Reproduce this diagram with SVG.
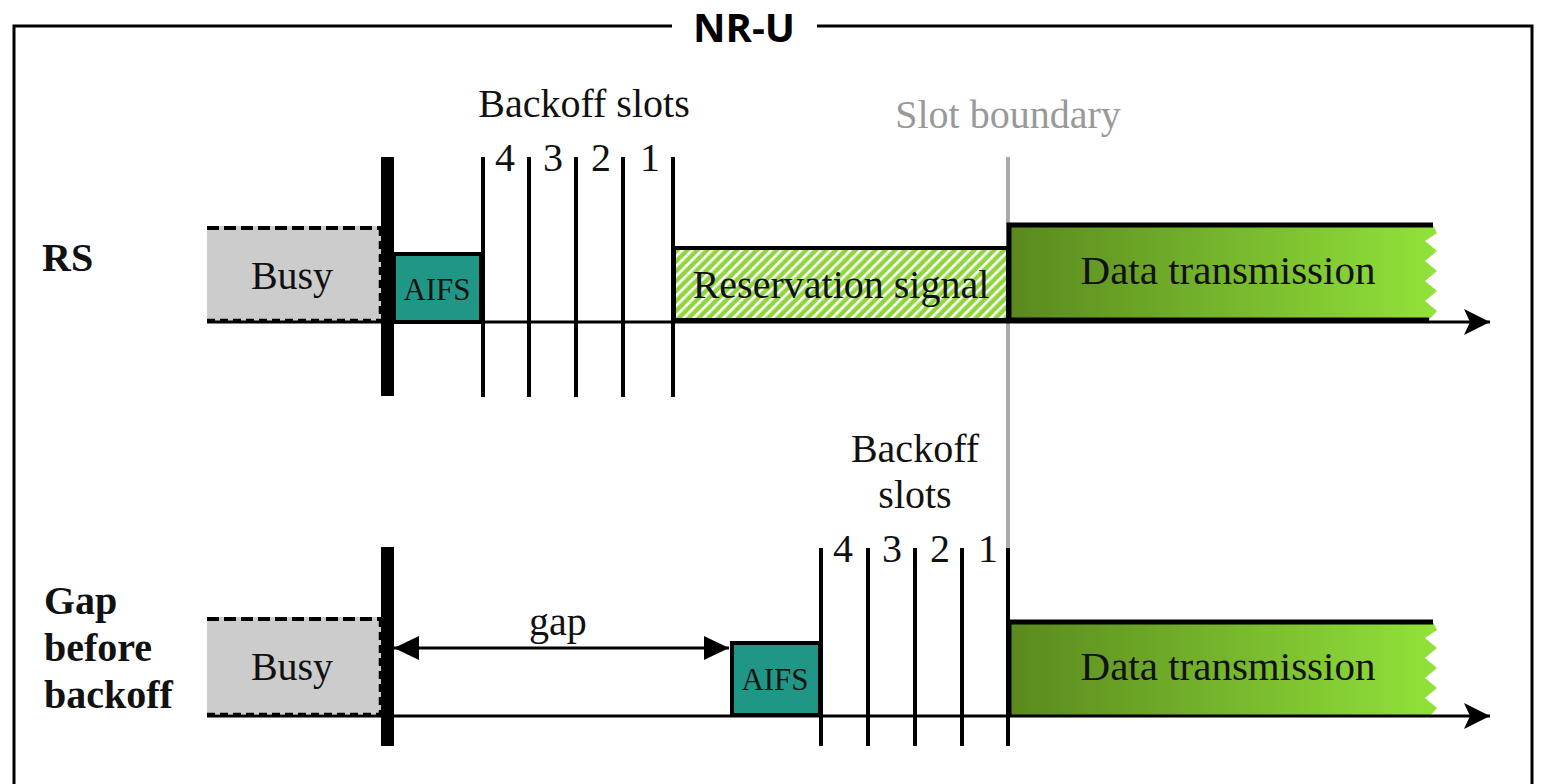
<svg xmlns="http://www.w3.org/2000/svg" width="1542" height="784" viewBox="0 0 1542 784">
<style>
.serif{font-family:"Liberation Serif","Times New Roman",serif;fill:#111}
.lbl{font-size:40px;text-anchor:middle}
.dt{font-size:41px;text-anchor:middle}
.num{font-size:40px;text-anchor:middle}
.aifs{font-size:31px;text-anchor:middle}
.side{font-size:40px;font-weight:bold}
.thin{stroke:#000;stroke-width:4;fill:none}
.thick{stroke:#000;stroke-width:13}
.axis{stroke:#000;stroke-width:3;fill:none}
.busy{fill:#cccccc}
.dash{stroke:#000;stroke-width:4;stroke-dasharray:12,5;fill:none}
.dashs{stroke:#000;stroke-width:2.5;stroke-dasharray:8,5;fill:none}
.aifsbox{fill:#209786;stroke:#000;stroke-width:4}
.bold5{stroke:#000;stroke-width:5;fill:none}
</style>
<defs>
<linearGradient id="dg" x1="0" y1="0" x2="1" y2="0">
<stop offset="0" stop-color="#5a891e"/>
<stop offset="1" stop-color="#91e23a"/>
</linearGradient>
<pattern id="hatch" width="7" height="7" patternUnits="userSpaceOnUse" patternTransform="rotate(45)">
<rect width="7" height="7" fill="#8fd63c"/>
<rect x="0" y="0" width="2.6" height="7" fill="#ffffff"/>
</pattern>
<marker id="ah" viewBox="0 0 26 26" refX="26" refY="13" markerWidth="26" markerHeight="26" markerUnits="userSpaceOnUse" orient="auto">
<path d="M26,13 L0,0 L6,13 L0,26 Z" fill="#000"/>
</marker>
<marker id="gh" viewBox="0 0 25 24" refX="25" refY="12" markerWidth="25" markerHeight="24" markerUnits="userSpaceOnUse" orient="auto-start-reverse">
<path d="M25,12 L0,0 L0,24 Z" fill="#000"/>
</marker>
</defs>

<g id="frame">
<path d="M672,26 L14,26 L14,790 M817,26 L1532,26 L1532,790" stroke="#000" stroke-width="3" fill="none"/>
<text x="744" y="42" font-family="'Open Sans','Liberation Sans',sans-serif" font-weight="bold" font-size="40" text-anchor="middle" fill="#000">NR-U</text>
</g>

<g id="row-labels">
<text class="serif side" x="42" y="271">RS</text>
<text class="serif side" x="44" y="614">Gap</text>
<text class="serif side" x="44" y="661">before</text>
<text class="serif side" x="44" y="708">backoff</text>
</g>

<g id="slot-boundary">
<line x1="1008" y1="157" x2="1008" y2="550" stroke="#aaaaaa" stroke-width="4"/>
<text class="serif lbl" x="1008" y="128" style="fill:#999999">Slot boundary</text>
</g>

<g id="rs-busy">
<rect class="busy" x="207" y="226" width="174" height="96"/>
<line class="dash" x1="207" y1="228" x2="381" y2="228"/>
<line class="dashs" x1="380" y1="228" x2="380" y2="322"/>
<line class="dashs" x1="207" y1="320" x2="381" y2="320"/>
<text class="serif lbl" x="292" y="289">Busy</text>
</g>

<g id="rs-aifs">
<rect class="aifsbox" x="394" y="254" width="87" height="68"/>
<text class="serif aifs" x="437" y="300">AIFS</text>
</g>

<g id="rs-reservation">
<rect x="674" y="248" width="334" height="72" fill="url(#hatch)" stroke="#000" stroke-width="4"/>
<text class="serif lbl" x="841" y="298">Reservation signal</text>
</g>

<g id="rs-data">
<path d="M1009,225 L1433,225 L1437,233 L1425,241 L1437,251 L1425,261 L1437,271 L1425,281 L1437,291 L1425,301 L1437,311 L1429,320 L1009,320 Z" fill="url(#dg)"/>
<path class="bold5" d="M1433,225 L1009,225 L1009,320 L1429,320"/>
<text class="serif dt" x="1228" y="284">Data transmission</text>
</g>

<g id="rs-backoff">
<text class="serif lbl" x="584" y="117">Backoff slots</text>
<text class="serif num" x="505" y="171">4</text>
<text class="serif num" x="553" y="171">3</text>
<text class="serif num" x="601" y="171">2</text>
<text class="serif num" x="650" y="171">1</text>
</g>

<g id="gap-busy">
<rect class="busy" x="207" y="617" width="174" height="97"/>
<line class="dash" x1="207" y1="619" x2="381" y2="619"/>
<line class="dashs" x1="380" y1="619" x2="380" y2="714"/>
<line class="dashs" x1="207" y1="714" x2="381" y2="714"/>
<text class="serif lbl" x="292" y="680">Busy</text>
</g>

<g id="gap-aifs">
<rect class="aifsbox" x="732" y="643" width="88" height="72"/>
<text class="serif aifs" x="775" y="690">AIFS</text>
</g>

<g id="gap-data">
<path d="M1009,622 L1433,622 L1437,630 L1425,638 L1437,648 L1425,658 L1437,668 L1425,678 L1437,688 L1425,698 L1437,708 L1430,716 L1009,716 Z" fill="url(#dg)"/>
<path class="bold5" d="M1433,622 L1009,622 L1009,716"/>
<text class="serif dt" x="1228" y="680">Data transmission</text>
</g>

<g id="gap-backoff">
<text class="serif lbl" x="915" y="462">Backoff</text>
<text class="serif lbl" x="915" y="508">slots</text>
<text class="serif num" x="843" y="562">4</text>
<text class="serif num" x="892" y="562">3</text>
<text class="serif num" x="940" y="562">2</text>
<text class="serif num" x="988" y="562">1</text>
</g>

<g id="connectors">
<line class="axis" x1="207" y1="322" x2="1490" y2="322" marker-end="url(#ah)"/>
<line class="axis" x1="207" y1="716" x2="1490" y2="716" marker-end="url(#ah)"/>
<line class="thick" x1="387.5" y1="157" x2="387.5" y2="396"/>
<line class="thick" x1="387.5" y1="547" x2="387.5" y2="746"/>
<line class="thin" x1="483" y1="157" x2="483" y2="397"/>
<line class="thin" x1="529" y1="157" x2="529" y2="397"/>
<line class="thin" x1="576" y1="157" x2="576" y2="397"/>
<line class="thin" x1="623" y1="157" x2="623" y2="397"/>
<line class="thin" x1="673" y1="157" x2="673" y2="397"/>
<line class="thin" x1="821" y1="548" x2="821" y2="746"/>
<line class="thin" x1="868" y1="548" x2="868" y2="746"/>
<line class="thin" x1="915" y1="548" x2="915" y2="746"/>
<line class="thin" x1="962" y1="548" x2="962" y2="746"/>
<line class="thin" x1="1008" y1="548" x2="1008" y2="746"/>
<line x1="394" y1="648" x2="729" y2="648" stroke="#000" stroke-width="3" marker-start="url(#gh)" marker-end="url(#gh)"/>
<text class="serif lbl" x="558" y="635">gap</text>
</g>
</svg>
